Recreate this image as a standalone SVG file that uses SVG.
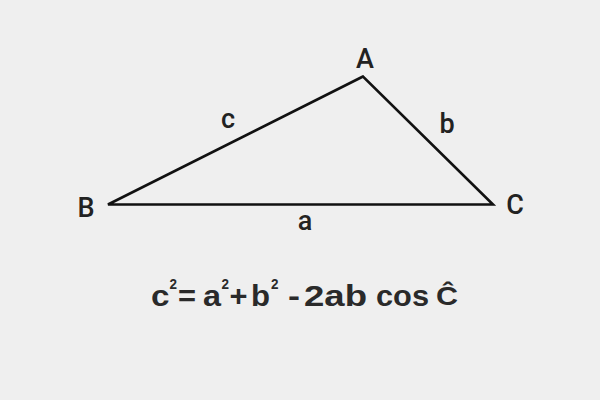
<svg xmlns="http://www.w3.org/2000/svg" width="600" height="400" viewBox="0 0 600 400">
<style>
.lbl{font-family:Roboto,"Liberation Sans",sans-serif;font-weight:500;font-size:27px;fill:#222;}
.f{font-family:"Liberation Sans",Arial,sans-serif;font-weight:700;font-size:29px;fill:#2a2a2a;}
.s{font-family:"Liberation Sans",Arial,sans-serif;font-weight:700;font-size:14px;fill:#2a2a2a;}
</style>
<rect width="600" height="400" fill="#efefef"/>
<g id="connectors">
<polygon points="363,76.5 108,204.5 493,204.5" fill="none" stroke="#111" stroke-width="2.6" stroke-linejoin="miter"/>
</g>
<g id="A"><text class="lbl" x="365" y="68" text-anchor="middle">A</text></g>
<g id="B"><text class="lbl" x="86" y="217" text-anchor="middle">B</text></g>
<g id="C"><text class="lbl" x="515" y="214" text-anchor="middle">C</text></g>
<g id="side-a"><text class="lbl" x="305" y="230" text-anchor="middle">a</text></g>
<g id="side-b"><text class="lbl" x="447" y="133" text-anchor="middle">b</text></g>
<g id="side-c"><text class="lbl" x="228" y="128" text-anchor="middle">c</text></g>
<g id="formula">
<text class="f" x="151" y="306" textLength="18.5" lengthAdjust="spacingAndGlyphs">c</text>
<text class="s" x="169.5" y="289" textLength="7.5" lengthAdjust="spacingAndGlyphs">2</text>
<text class="f" x="178" y="306" textLength="18" lengthAdjust="spacingAndGlyphs">=</text>
<text class="f" x="203" y="306" textLength="18" lengthAdjust="spacingAndGlyphs">a</text>
<text class="s" x="221.5" y="289" textLength="7.5" lengthAdjust="spacingAndGlyphs">2</text>
<text class="f" x="229.5" y="306" textLength="18" lengthAdjust="spacingAndGlyphs">+</text>
<text class="f" x="251" y="306" textLength="19" lengthAdjust="spacingAndGlyphs">b</text>
<text class="s" x="271" y="289" textLength="7.5" lengthAdjust="spacingAndGlyphs">2</text>
<text class="f" x="288" y="306" textLength="12" lengthAdjust="spacingAndGlyphs">-</text>
<text class="f" x="304" y="306" textLength="63" lengthAdjust="spacingAndGlyphs">2ab</text>
<text class="f" x="376" y="306" textLength="53" lengthAdjust="spacingAndGlyphs">cos</text>
<text class="f" x="436" y="305" style="font-size:26px" textLength="22" lengthAdjust="spacingAndGlyphs">Ĉ</text>
</g>
</svg>
